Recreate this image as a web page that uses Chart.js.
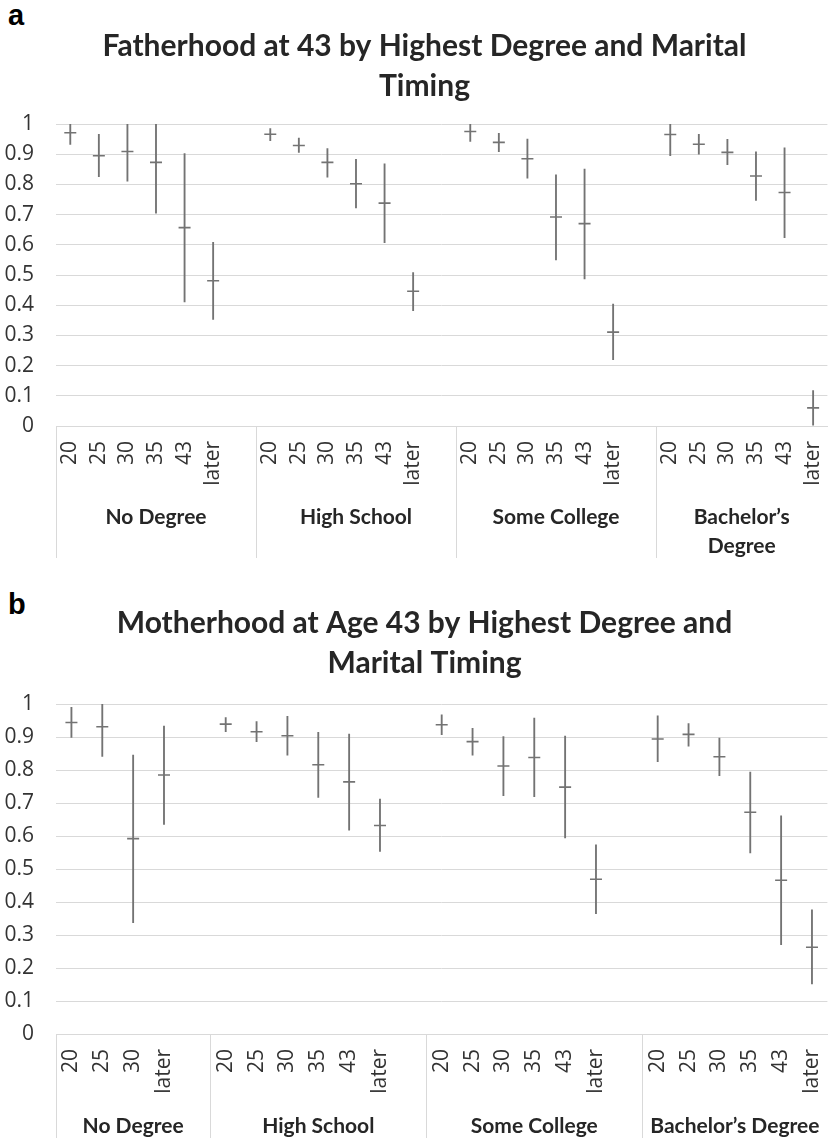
<!DOCTYPE html>
<html>
<head>
<meta charset="utf-8">
<script src="https://cdn.jsdelivr.net/npm/chart.js@4.4.1/dist/chart.umd.min.js"></script>
<style>
  body { margin: 0; background: #fff; width: 835px; height: 1138px; position: relative; overflow: hidden; }
  .panel { position: absolute; left: 0; width: 835px; }
  .tag { position: absolute; left: 8px; font: bold 29px "Liberation Sans", Arial, sans-serif; line-height: 28px; color: #000; }
  canvas { display: block; }
</style>
</head>
<body>
<div class="tag" style="top:1px">a</div>
<div class="panel" style="top:0; height:570px"><canvas id="fatherChart" width="835" height="570"></canvas></div>
<div class="tag" style="top:590px">b</div>
<div class="panel" style="top:570px; height:568px"><canvas id="motherChart" width="835" height="568"></canvas></div>
<script>
// marital timing categories
const timingAll = ["20", "25", "30", "35", "43", "later"];
const timingNoDegreeB = ["20", "25", "30", "later"];

// degree groups
const groupsA = ["No Degree", "High School", "Some College", ["Bachelor’s", "Degree"]];
const groupsB = ["No Degree", "High School", "Some College", "Bachelor’s Degree"];

// fatherhood at 43 (panel a), in group order
const fatherMean = [0.971, 0.895, 0.909, 0.873, 0.657, 0.481,
                    0.966, 0.929, 0.873, 0.802, 0.738, 0.446,
                    0.975, 0.939, 0.885, 0.692, 0.670, 0.311,
                    0.965, 0.933, 0.906, 0.828, 0.773, 0.060];
const fatherLow = [0.932, 0.826, 0.811, 0.705, 0.411, 0.353,
                   0.945, 0.906, 0.824, 0.722, 0.607, 0.382,
                   0.942, 0.908, 0.821, 0.550, 0.487, 0.220,
                   0.895, 0.900, 0.865, 0.747, 0.624, 0.003];
const fatherHigh = [1.0, 0.966, 1.0, 1.0, 0.902, 0.608,
                    0.985, 0.953, 0.919, 0.883, 0.868, 0.508,
                    1.0, 0.969, 0.950, 0.832, 0.851, 0.404,
                    1.0, 0.966, 0.949, 0.908, 0.921, 0.117];

// motherhood at 43 (panel b)
const motherMean = [0.944, 0.931, 0.592, 0.785,
                    0.939, 0.916, 0.904, 0.816, 0.764, 0.632,
                    0.937, 0.886, 0.812, 0.838, 0.748, 0.469,
                    0.894, 0.908, 0.840, 0.672, 0.466, 0.263];
const motherLow = [0.899, 0.841, 0.337, 0.635,
                   0.916, 0.886, 0.845, 0.717, 0.618, 0.553,
                   0.907, 0.845, 0.722, 0.719, 0.594, 0.365,
                   0.825, 0.872, 0.783, 0.549, 0.271, 0.152];
const motherHigh = [0.990, 1.0, 0.845, 0.933,
                    0.959, 0.947, 0.963, 0.914, 0.909, 0.712,
                    0.967, 0.926, 0.901, 0.957, 0.903, 0.573,
                    0.964, 0.941, 0.897, 0.794, 0.661, 0.376];

const yTicks = [0, 0.1, 0.2, 0.3, 0.4, 0.5, 0.6, 0.7, 0.8, 0.9, 1];

const markColor = "#737373";
const gridColor = "#d9d9d9";

// lay the groups out one after another, with an empty slot between groups
function buildRows(groups, timings, mean, low, high) {
  const labels = [], ranges = [], means = [], spans = [];
  let k = 0;
  groups.forEach((g, gi) => {
    spans.push({ start: labels.length, label: g });
    timings[gi].forEach((t) => {
      labels.push(t);
      ranges.push([low[k], high[k]]);
      means.push(mean[k]);
      k++;
    });
    if (gi < groups.length - 1) {
      labels.push("");
      ranges.push(null);
      means.push(null);
    }
  });
  return { labels, ranges, means, spans };
}

// title sits centred over the plot, not the whole canvas
const titleShift = {
  id: "titleShift",
  afterLayout(chart, args, opts) {
    if (chart.titleBlock) {
      chart.titleBlock.left += opts.dx;
      chart.titleBlock.right += opts.dx;
    }
  },
};

const groupAxis = {
  id: "groupAxis",
  afterDraw(chart, args, opts) {
    const { ctx, chartArea } = chart;
    const x = chart.scales.x;
    const half = (x.getPixelForValue(1) - x.getPixelForValue(0)) / 2;
    ctx.save();
    ctx.strokeStyle = gridColor;
    ctx.lineWidth = 1;
    ctx.fillStyle = "#262626";
    ctx.font = "bold 21px Lato";
    ctx.textAlign = "center";
    ctx.textBaseline = "middle";
    opts.spans.forEach((span, i) => {
      const left = x.getPixelForValue(span.start) - half;
      const right = i < opts.spans.length - 1
        ? x.getPixelForValue(opts.spans[i + 1].start) - half
        : chartArea.right;
      const sx = Math.round(left) + 0.5;
      ctx.beginPath();
      ctx.moveTo(sx, chartArea.bottom);
      ctx.lineTo(sx, chartArea.bottom + opts.lineLength);
      ctx.stroke();
      [].concat(span.label).forEach((t, n) => {
        ctx.fillText(t, (left + right) / 2, chartArea.bottom + opts.labelOffset + n * 29);
      });
    });
    ctx.restore();
  },
};

function renderIntervalChart(id, title, rows, opts) {
  return new Chart(document.getElementById(id), {
    type: "bar",
    data: {
      labels: rows.labels,
      datasets: [
        {
          type: "line",
          data: rows.means,
          showLine: false,
          pointStyle: "line",
          pointRadius: 6,
          pointHoverRadius: 6,
          pointBorderWidth: 1.6,
          borderColor: markColor,
          backgroundColor: markColor,
        },
        {
          data: rows.ranges,
          backgroundColor: markColor,
          borderWidth: 0,
          barThickness: 1.2,
        },
      ],
    },
    options: {
      responsive: false,
      animation: false,
      events: [],
      layout: { padding: 0 },
      plugins: {
        legend: { display: false },
        tooltip: { enabled: false },
        title: {
          display: true,
          text: title,
          color: "#262626",
          font: { family: "Lato", weight: "bold", size: 30, lineHeight: 40 / 30 },
          padding: opts.titlePadding,
        },
        titleShift: { dx: 7 },
        groupAxis: { spans: rows.spans, lineLength: opts.lineLength, labelOffset: opts.labelOffset },
      },
      scales: {
        x: {
          grid: { display: false, drawTicks: false },
          border: { display: true, color: gridColor },
          ticks: {
            autoSkip: false,
            minRotation: 90,
            maxRotation: 90,
            padding: 15,
            color: "#333333",
            font: { family: "'Open Sans'", size: 21 },
          },
          afterFit: (s) => {
            s.height = opts.xHeight;
            s.paddingLeft = 0;
            s.paddingRight = 0;
          },
        },
        y: {
          min: 0,
          max: 1,
          afterBuildTicks: (s) => {
            s.ticks = yTicks.map((v) => ({ value: v }));
          },
          grid: { color: gridColor, drawTicks: false },
          border: { display: false },
          ticks: {
            padding: 22,
            color: "#333333",
            font: { family: "'Open Sans'", size: 21 },
            callback: (v) => String(Math.round(v * 10) / 10),
          },
          afterFit: (s) => {
            s.width = 56;
          },
        },
      },
    },
    plugins: [titleShift, groupAxis],
  });
}

const rowsA = buildRows(groupsA, [timingAll, timingAll, timingAll, timingAll], fatherMean, fatherLow, fatherHigh);
const rowsB = buildRows(groupsB, [timingNoDegreeB, timingAll, timingAll, timingAll], motherMean, motherLow, motherHigh);

renderIntervalChart("fatherChart", ["Fatherhood at 43 by Highest Degree and Marital", "Timing"], rowsA, {
  titlePadding: { top: 26, bottom: 18 },
  xHeight: 144,
  lineLength: 132,
  labelOffset: 91,
});

renderIntervalChart("motherChart", ["Motherhood at Age 43 by Highest Degree and", "Marital Timing"], rowsB, {
  titlePadding: { top: 33, bottom: 21 },
  xHeight: 104,
  lineLength: 104,
  labelOffset: 92,
});
</script>
</body>
</html>
